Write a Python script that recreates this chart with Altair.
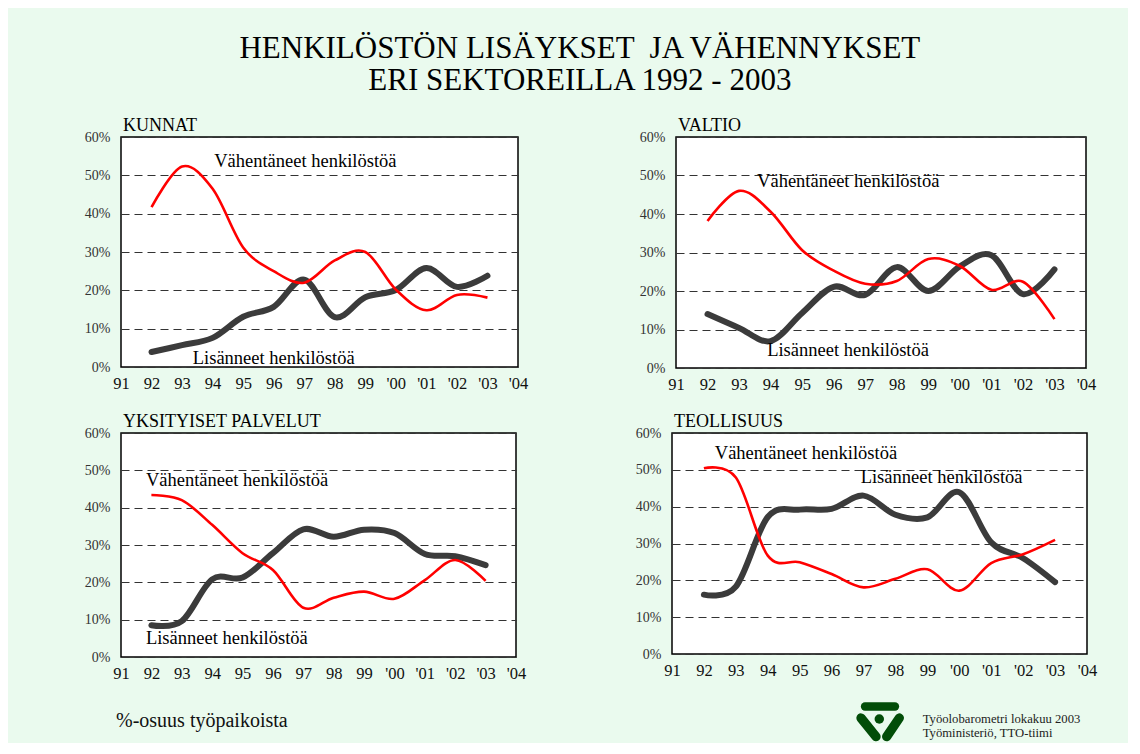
import altair as alt
import pandas as pd

SERIF = "Liberation Serif"

years = [92, 93, 94, 95, 96, 97, 98, 99, 100, 101, 102, 103]
x_ticks = [91, 92, 93, 94, 95, 96, 97, 98, 99, 100, 101, 102, 103, 104]
y_ticks = [0, 10, 20, 30, 40, 50, 60]

series = ["Vähentäneet henkilöstöä", "Lisänneet henkilöstöä"]
panels = ["KUNNAT", "VALTIO", "YKSITYISET PALVELUT", "TEOLLISUUS"]

kunnat_vah = [41.7, 52.3, 46.5, 31.2, 25.0, 22.0, 27.8, 30.0, 20.2, 14.8, 18.8, 18.1]
kunnat_lis = [3.9, 5.7, 7.6, 13.1, 15.7, 22.8, 13.0, 18.2, 20.1, 25.8, 20.9, 23.8]
valtio_vah = [38.2, 46.0, 40.6, 30.6, 25.3, 21.9, 22.6, 28.3, 26.5, 20.3, 22.4, 12.7]
valtio_lis = [14.0, 10.4, 7.0, 14.3, 21.1, 19.0, 26.2, 20.0, 26.4, 29.3, 19.2, 25.6]
yks_vah = [43.4, 42.0, 35.4, 27.8, 23.3, 13.2, 15.9, 17.5, 15.6, 20.6, 26.0, 20.4]
yks_lis = [8.5, 9.6, 20.8, 21.3, 27.8, 34.2, 32.2, 34.1, 33.2, 27.6, 27.0, 24.6]
teol_vah = [50.4, 47.9, 26.7, 24.9, 21.7, 18.1, 20.4, 23.0, 17.2, 24.7, 27.1, 31.0]
teol_lis = [16.1, 18.3, 37.2, 39.2, 39.4, 43.0, 37.8, 37.1, 43.9, 30.3, 26.0, 19.5]

# series label anchors (year, percent) per panel
label_x = [[94.05, 93.35], [93.57, 93.89], [91.82, 91.82], [92.34, 96.91]]
label_y = [[52.1, 0.9], [46.9, 3.1], [45.7, 3.6], [52.9, 46.4]]

title_lines = ["HENKILÖSTÖN LISÄYKSET \u00a0JA VÄHENNYKSET", "ERI SEKTOREILLA 1992 - 2003"]
footer_left = "%-osuus työpaikoista"
footer_right = ["Työolobarometri lokakuu 2003", "Työministeriö, TTO-tiimi"]

one = pd.DataFrame({"k": [0]})


def make_panel(i, vah, lis, w, h, min_ext, extra=()):
    df = pd.DataFrame({
        "vuosi": years + years,
        "osuus": vah + lis,
        "sarja": [series[0]] * len(years) + [series[1]] * len(years),
    })
    lab = pd.DataFrame({"vuosi": label_x[i], "osuus": label_y[i], "teksti": series})
    xs = alt.X("vuosi:Q",
               scale=alt.Scale(domain=[91, 104], nice=False, zero=False),
               axis=alt.Axis(values=x_ticks, title=None, ticks=False, domain=False, grid=False,
                             labelExpr="datum.value < 100 ? '' + datum.value : \"'0\" + (datum.value - 100)",
                             labelFlush=False, labelOverlap=False, labelFont=SERIF,
                             labelFontSize=16.5, labelColor="#111", labelPadding=8))
    ys = alt.Y("osuus:Q",
               scale=alt.Scale(domain=[0, 60], nice=False),
               axis=alt.Axis(values=y_ticks, title=None, ticks=False, domain=False, grid=True,
                             gridDash=[8, 5], gridColor="#333", gridWidth=1.1,
                             labelExpr="datum.value + '%'", labelOverlap=False,
                             labelFont=SERIF, labelFontSize=14, labelColor="#333",
                             labelPadding=11, minExtent=min_ext))
    base = alt.Chart(df)
    black = base.transform_filter(alt.datum.sarja == series[1]).mark_line(
        interpolate="cardinal", color="#3b3b3b", strokeWidth=6, strokeCap="round"
    ).encode(x=xs, y=ys)
    red = base.transform_filter(alt.datum.sarja == series[0]).mark_line(
        interpolate="cardinal", color="#ff0000", strokeWidth=2.6
    ).encode(x=xs, y=ys)
    text = alt.Chart(lab).mark_text(
        align="left", baseline="alphabetic", font=SERIF, fontSize=18.5, color="black"
    ).encode(x=xs, y=ys, text="teksti:N")
    layers = [black, red, text] + list(extra)
    return alt.layer(*layers).properties(
        width=w, height=h,
        title=alt.TitleParams(text=panels[i], anchor="start", frame="group", font=SERIF,
                              fontSize=18, fontWeight="normal", color="black", offset=-5, dx=2),
    )


footer_l = [
    alt.Chart(one).mark_text(align="left", baseline="alphabetic", font=SERIF, fontSize=20,
                             color="#111", text=footer_left).encode(x=alt.value(-5), y=alt.value(294)),
]

logo_col = "#024d08"
footer_r = [
    alt.Chart(one).mark_rule(color=logo_col, strokeWidth=8.3, strokeCap="round").encode(
        x=alt.value(193), x2=alt.value(223), y=alt.value(273.5)),
    alt.Chart(one).mark_rule(color=logo_col, strokeWidth=9.3, strokeCap="round").encode(
        x=alt.value(189), x2=alt.value(204), y=alt.value(285), y2=alt.value(303.7)),
    alt.Chart(one).mark_rule(color=logo_col, strokeWidth=9.3, strokeCap="round").encode(
        x=alt.value(227.3), x2=alt.value(214.7), y=alt.value(285), y2=alt.value(303.7)),
    alt.Chart(one).mark_circle(color=logo_col, opacity=1, size=90).encode(
        x=alt.value(207.3), y=alt.value(286)),
    alt.Chart(one).mark_text(align="left", baseline="alphabetic", font=SERIF, fontSize=12.7,
                             color="#222", text=footer_right[0]).encode(x=alt.value(250.7), y=alt.value(290)),
    alt.Chart(one).mark_text(align="left", baseline="alphabetic", font=SERIF, fontSize=12.7,
                             color="#222", text=footer_right[1]).encode(x=alt.value(250.7), y=alt.value(303.5)),
]

p1 = make_panel(0, kunnat_vah, kunnat_lis, 397, 230, 112)
p2 = make_panel(1, valtio_vah, valtio_lis, 410, 231, 50)
p3 = make_panel(2, yks_vah, yks_lis, 395, 224, 112, footer_l)
p4 = make_panel(3, teol_vah, teol_lis, 415, 221, 50, footer_r)

row1 = alt.hconcat(p1, p2, spacing=96)
row2 = alt.hconcat(p3, p4, spacing=94)

chart = alt.vconcat(row1, row2, spacing=18).properties(
    title=alt.TitleParams(text=title_lines, fontSize=31, font=SERIF, fontWeight="normal",
                          color="black", anchor="middle", lineHeight=32, offset=19, dx=27),
    padding={"left": 0, "top": 25, "right": 30, "bottom": 0},
    background="#eafaee",
).configure_view(fill="white", stroke="black", strokeWidth=1.5)

chart.save("out.html", embed_options={"renderer": "svg", "actions": False})
